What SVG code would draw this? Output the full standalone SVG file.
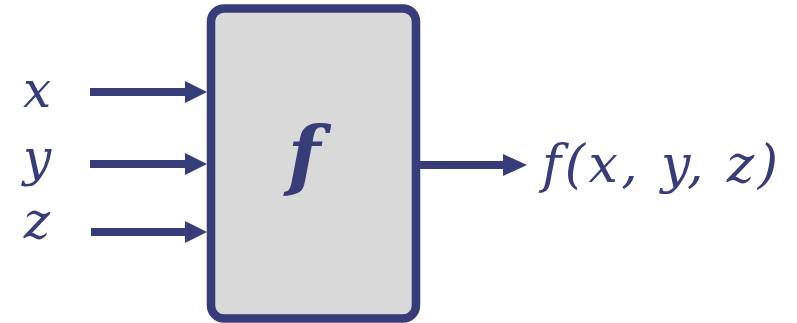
<svg xmlns="http://www.w3.org/2000/svg" width="797" height="323" viewBox="0 0 797 323">
<style>
.c{stroke:#383C79;stroke-width:8;fill:none}
.h{fill:#383C79}
.t{font-family:"DejaVu Serif",serif;font-style:italic;fill:#383C79}
</style>
<rect width="797" height="323" fill="#fff"/>
<g id="box">
<rect x="211" y="8.5" width="205" height="310" rx="13" fill="#D9D9D9" stroke="#383C79" stroke-width="8.5"/>
<text class="t" x="304" y="181" font-size="76" font-weight="bold" text-anchor="middle">f</text>
</g>
<g id="in-x"><text class="t" x="37" y="107" font-size="50" text-anchor="middle">x</text></g>
<g id="in-y"><text class="t" x="37" y="175" font-size="50" text-anchor="middle">y</text></g>
<g id="in-z"><text class="t" x="37" y="238" font-size="50" text-anchor="middle">z</text></g>
<g id="out"><text class="t" x="542" y="182" font-size="52" textLength="236" lengthAdjust="spacing">f(x, y, z)</text></g>
<g id="connectors">
<line class="c" x1="90" y1="92" x2="187" y2="92"/>
<polygon class="h" points="185,81 207,92 185,103"/>
<line class="c" x1="90" y1="164" x2="187" y2="164"/>
<polygon class="h" points="185,153 207,164 185,175"/>
<line class="c" x1="91" y1="232" x2="187" y2="232"/>
<polygon class="h" points="185,221 207,232 185,243"/>
<line class="c" x1="420" y1="165" x2="505" y2="165"/>
<polygon class="h" points="503,154 527,165 503,176"/>
</g>
</svg>
